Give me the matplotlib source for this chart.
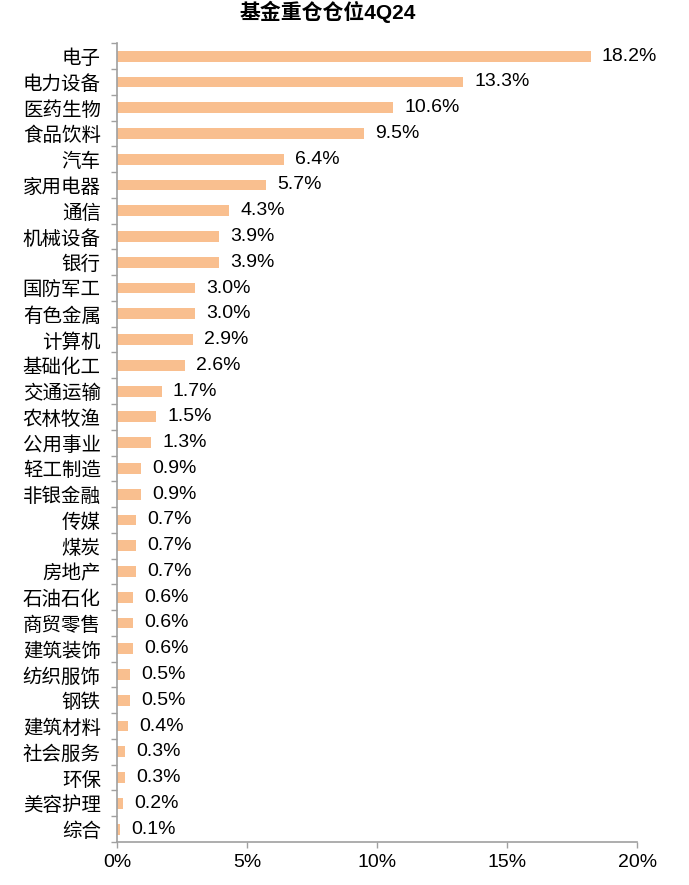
import matplotlib
matplotlib.use("Agg")
import matplotlib.pyplot as plt
from matplotlib.ticker import FuncFormatter, FixedLocator
import numpy as np

plt.rcParams['font.family'] = ['Liberation Sans', 'Noto Sans CJK SC', 'DejaVu Sans']

categories = ["电子", "电力设备", "医药生物", "食品饮料", "汽车", "家用电器", "通信", "机械设备",
              "银行", "国防军工", "有色金属", "计算机", "基础化工", "交通运输", "农林牧渔", "公用事业",
              "轻工制造", "非银金融", "传媒", "煤炭", "房地产", "石油石化", "商贸零售", "建筑装饰",
              "纺织服饰", "钢铁", "建筑材料", "社会服务", "环保", "美容护理", "综合"]
values = [18.2, 13.3, 10.6, 9.5, 6.4, 5.7, 4.3, 3.9, 3.9, 3.0, 3.0, 2.9, 2.6, 1.7, 1.5, 1.3,
          0.9, 0.9, 0.7, 0.7, 0.7, 0.6, 0.6, 0.6, 0.5, 0.5, 0.4, 0.3, 0.3, 0.2, 0.1]
xticks = [0, 5, 10, 15, 20]
title = "基金重仓仓位4Q24"

fig = plt.figure(figsize=(6.89, 8.85), dpi=100)
ax = fig.add_axes([0.1705, 0.0486, 0.7547, 0.9025])

n = len(categories)
y = np.arange(n)
ax.barh(y, values, height=0.42, color="#F9BF8F", zorder=2)
ax.set_ylim(n - 0.5, -0.5)
ax.set_xlim(0, 20)

ax.set_yticks(y)
ax.set_yticklabels(categories, fontsize=14, family=['Noto Sans CJK SC', 'DejaVu Sans'])
ax.tick_params(axis='y', which='major', length=0, pad=12)
ax.yaxis.set_minor_locator(FixedLocator(np.arange(-0.5, n, 1.0)))
ax.tick_params(axis='y', which='minor', length=4, width=1, color="#A0A0A0", direction='out')

ax.set_xticks(xticks)
ax.xaxis.set_major_formatter(FuncFormatter(lambda v, p: f"{v:.0f}%"))
ax.tick_params(axis='x', length=4, width=1, color="#A0A0A0", direction='out', labelsize=14, pad=5)

for s in ['top', 'right']:
    ax.spines[s].set_visible(False)
for s in ['left', 'bottom']:
    ax.spines[s].set_color("#A0A0A0")
    ax.spines[s].set_linewidth(1.2)

for yi, v in zip(y, values):
    ax.annotate(f"{v:.1f}%", xy=(v, yi), xytext=(8, 0), textcoords='offset points',
                va='center', ha='left', fontsize=14, color="#000000")

fig.text(0.476, 0.9864, title, ha='center', va='center', fontsize=15, fontweight='bold',
         family=['Liberation Sans', 'Noto Sans CJK SC', 'DejaVu Sans'])

fig.savefig("out.png", dpi=100)
